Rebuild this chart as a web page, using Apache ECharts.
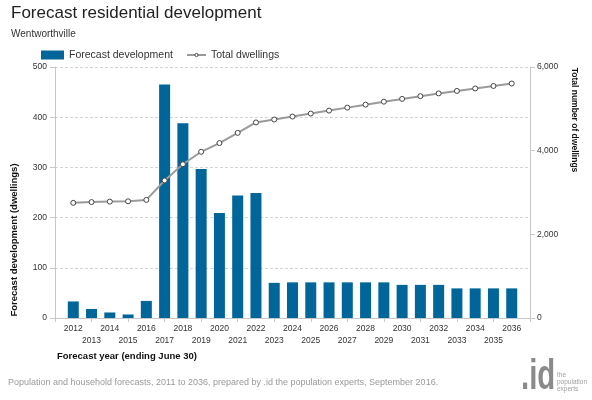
<!DOCTYPE html>
<html>
<head>
<meta charset="utf-8">
<script src="https://cdn.jsdelivr.net/npm/echarts@6/dist/echarts.min.js"></script>
<style>
html,body{margin:0;padding:0;background:#fff;}
#chart{width:592px;height:400px;}
</style>
</head>
<body>
<div id="chart"></div>
<script>
const years = [2012,2013,2014,2015,2016,2017,2018,2019,2020,2021,2022,2023,2024,2025,2026,2027,2028,2029,2030,2031,2032,2033,2034,2035,2036];
const development = [33,18,11,7,34,465,388,297,209,244,249,70,71,71,71,71,71,71,66,66,66,59,59,59,59];
const totalDwellings = [2753,2771,2782,2789,2823,3288,3676,3973,4182,4426,4675,4745,4816,4887,4958,5029,5100,5171,5237,5303,5369,5428,5487,5546,5605];
const leftTicks = [0,100,200,300,400,500];
const rightTicks = [0,2000,4000,6000];

const FONT = 'Liberation Sans, Arial, sans-serif';
const chart = echarts.init(document.getElementById('chart'), null, {renderer:'canvas'});

const barData = years.map((y,i)=>[y, development[i]]);
const lineData = years.map((y,i)=>[y, totalDwellings[i]]);
const xMin = years[0]-1, xMax = years[years.length-1]+1;

const legendText = {fontSize:10.5, color:'#333', fontFamily:FONT, lineHeight:12};

const option = {
  animation:false,
  textStyle:{fontFamily:FONT},
  title:{
    text:'Forecast residential development',
    subtext:'Wentworthville',
    left:6, top:0,
    itemGap:7,
    textStyle:{fontSize:17, fontWeight:'normal', color:'#222', fontFamily:FONT},
    subtextStyle:{fontSize:10, color:'#333', fontFamily:FONT}
  },
  legend:[
    {
      data:[{name:'Forecast development', icon:'rect'}],
      left:36, top:44,
      itemWidth:23, itemHeight:9,
      textStyle:legendText
    },
    {
      data:[{name:'Total dwellings', itemStyle:{color:'#fff', borderColor:'#444', borderWidth:1}}],
      left:181, top:44,
      itemWidth:19, itemHeight:4,
      textStyle:legendText
    }
  ],
  grid:{left:55, right:62, top:67, bottom:82, containLabel:false},
  xAxis:[
    {
      type:'value', min:xMin, max:xMax, interval:1,
      axisLine:{show:true, lineStyle:{color:'#c8c8c8'}},
      axisTick:{show:false},
      splitLine:{show:false},
      axisLabel:{
        fontSize:8.5, color:'#333', margin:5, lineHeight:12, fontFamily:FONT,
        formatter:function(v){
          if (v < years[0] || v > years[years.length-1]) return '';
          return (v % 2 === 0) ? String(v) : '\n' + v;
        }
      }
    },
    {
      type:'value', position:'bottom', min:0, max:xMax-xMin, interval:2,
      axisLine:{show:false},
      axisTick:{show:true, length:4, lineStyle:{color:'#c8c8c8'}},
      axisLabel:{show:false},
      splitLine:{show:false}
    }
  ],
  yAxis:[
    {
      type:'value', min:leftTicks[0], max:leftTicks[leftTicks.length-1], interval:leftTicks[1]-leftTicks[0],
      axisLine:{show:true, lineStyle:{color:'#c8c8c8'}},
      axisTick:{show:true, length:5, lineStyle:{color:'#c8c8c8'}},
      axisLabel:{fontSize:8.5, color:'#333', margin:8, fontFamily:FONT},
      splitLine:{show:true, lineStyle:{color:'#d4d4d4', type:[3,2], width:1}}
    },
    {
      type:'value', position:'right', min:rightTicks[0], max:rightTicks[rightTicks.length-1], interval:rightTicks[1]-rightTicks[0],
      axisLine:{show:true, lineStyle:{color:'#c8c8c8'}},
      axisTick:{show:true, length:5, lineStyle:{color:'#c8c8c8'}},
      axisLabel:{fontSize:8.5, color:'#333', margin:7, fontFamily:FONT,
        formatter:function(v){return v.toLocaleString('en-US');}},
      splitLine:{show:false}
    }
  ],
  series:[
    {
      name:'Forecast development', type:'bar',
      xAxisIndex:0, yAxisIndex:0,
      data:barData, barWidth:11,
      itemStyle:{color:'#006699'}
    },
    {
      name:'Total dwellings', type:'line',
      xAxisIndex:0, yAxisIndex:1,
      data:lineData,
      symbol:'circle', symbolSize:5,
      z:5,
      lineStyle:{color:'#9a9a9a', width:2},
      itemStyle:{color:'#ffffff', borderColor:'#444', borderWidth:1}
    }
  ],
  graphic:[
    {type:'text', x:14, y:240, rotation:Math.PI/2,
     style:{text:'Forecast development (dwellings)', font:'bold 9.5px '+FONT, fill:'#111', align:'center', verticalAlign:'middle'}},
    {type:'text', x:574, y:120, rotation:-Math.PI/2,
     style:{text:'Total number of dwellings', font:'bold 8.5px '+FONT, fill:'#111', align:'center', verticalAlign:'middle'}},
    {type:'text', x:57, y:356,
     style:{text:'Forecast year (ending June 30)', font:'bold 9.5px '+FONT, fill:'#111', align:'left', verticalAlign:'middle'}},
    {type:'text', x:8, y:383,
     style:{text:'Population and household forecasts, 2011 to 2036, prepared by .id the population experts, September 2016.', font:'9px '+FONT, fill:'#999', align:'left', verticalAlign:'middle'}},
    {type:'text', x:521, y:398, scaleX:0.7,
     style:{text:'.id', font:'bold 42px '+FONT, fill:'#8a8a8a', align:'left', verticalAlign:'bottom'}},
    {type:'text', x:557, y:375,
     style:{text:'the', font:'6.5px '+FONT, fill:'#a0a0a0', align:'left', verticalAlign:'middle'}},
    {type:'text', x:557, y:382,
     style:{text:'population', font:'6.5px '+FONT, fill:'#a0a0a0', align:'left', verticalAlign:'middle'}},
    {type:'text', x:557, y:389,
     style:{text:'experts', font:'6.5px '+FONT, fill:'#a0a0a0', align:'left', verticalAlign:'middle'}}
  ]
};
chart.setOption(option);
</script>
</body>
</html>
